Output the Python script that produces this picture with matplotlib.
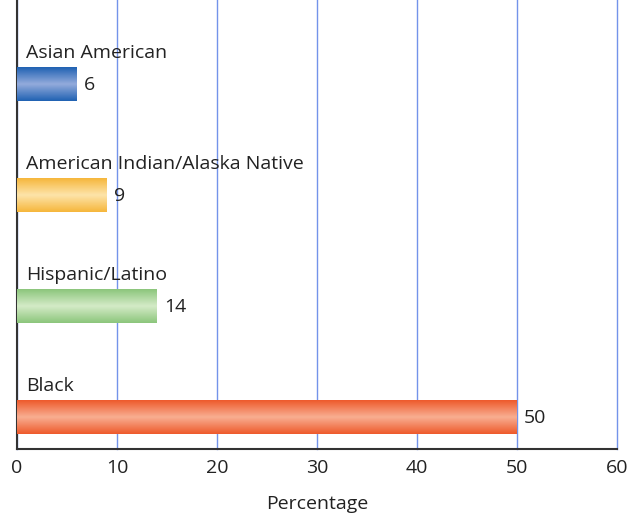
import numpy as np
import matplotlib
matplotlib.use("Agg")
from matplotlib import pyplot as plt
from matplotlib.colors import LinearSegmentedColormap

plt.rcParams['font.family'] = ['Open Sans', 'DejaVu Sans']

# data (bottom to top)
groups = ['Black', 'Hispanic/Latino', 'American Indian/Alaska Native', 'Asian American']
values = [50, 14, 9, 6]
edge_colors = ['#ee5a2c', '#8cc67c', '#f6b73c', '#2062b3']
mid_colors = ['#f8ad90', '#d3eac6', '#fde3a8', '#92aadb']
xticks = [0, 10, 20, 30, 40, 50, 60]

fig = plt.figure(figsize=(6.43, 5.15), dpi=100)
ax = fig.add_axes([17 / 643, 66 / 515, 600 / 643, 449 / 515])

bar_h = 0.3
grad = np.abs(np.linspace(-1, 1, 64))[:, None]
for i, (g, v) in enumerate(zip(groups, values)):
    cmap = LinearSegmentedColormap.from_list('c%d' % i, [mid_colors[i], edge_colors[i]])
    ax.imshow(grad, cmap=cmap, aspect='auto', interpolation='bicubic',
              extent=[0, v, i - bar_h / 2, i + bar_h / 2], zorder=3)
    ax.text(v + 0.7, i - 0.01, str(v), va='center', ha='left', fontsize=14, color='#222222')
    ax.text(0.9, i + bar_h / 2 + 0.05, g, va='bottom', ha='left', fontsize=14, color='#222222')

ax.set_xlim(0, 60)
ax.set_ylim(-0.288, 3.757)
ax.set_xticks(xticks)
ax.set_yticks([])
ax.tick_params(axis='x', length=0, labelsize=14, pad=7, colors='#222222')
ax.grid(axis='x', color='#7393ea', linewidth=1)
for gl in ax.get_xgridlines():
    gl.set_clip_on(False)
ax.set_axisbelow(True)
for s in ['top', 'right']:
    ax.spines[s].set_visible(False)
for s in ['left', 'bottom']:
    ax.spines[s].set_color('#333333')
    ax.spines[s].set_linewidth(1.5)
ax.set_xlabel('Percentage', fontsize=14, labelpad=13, color='#222222')

fig.savefig('out.png', dpi=100)
